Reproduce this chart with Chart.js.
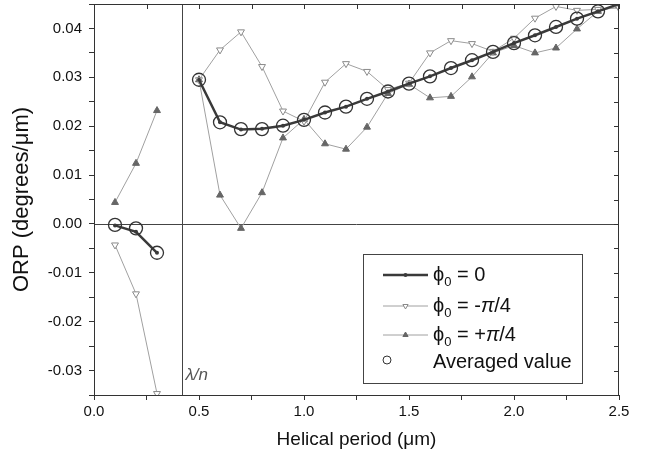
<!DOCTYPE html>
<html>
<head>
<meta charset="utf-8">
<script src="https://cdn.jsdelivr.net/npm/chart.js@4.4.1/dist/chart.umd.min.js"></script>
<style>
    html, body { margin: 0; padding: 0; background: #fff; }
</style>
</head>
<body>
<canvas id="myChart" width="645" height="462"></canvas>
<script>
// Helical period (um); 0.4 is left empty so the two branches stay apart
const periods = [0.1, 0.2, 0.3, 0.4, 0.5, 0.6, 0.7, 0.8, 0.9, 1.0, 1.1, 1.2, 1.3,
                 1.4, 1.5, 1.6, 1.7, 1.8, 1.9, 2.0, 2.1, 2.2, 2.3, 2.4, 2.5];

const phiZero = [-0.0003, -0.0016, -0.0059, null, 0.0295, 0.0208, 0.0193, 0.0195, 0.0201,
                 0.0213, 0.0228, 0.0240, 0.0256, 0.0271, 0.0287, 0.0302, 0.0319, 0.0335,
                 0.0352, 0.0370, 0.0386, 0.0403, 0.0420, 0.0435, 0.0450];

const phiMinus = [-0.0043, -0.0143, -0.0347, null, 0.0295, 0.0356, 0.0393, 0.0322, 0.0231,
                  0.0210, 0.0290, 0.0328, 0.0312, 0.0275, 0.0288, 0.0350, 0.0375, 0.0369,
                  0.0353, 0.0380, 0.0421, 0.0445, 0.0437, 0.0439, 0.0442];

const phiPlus = [0.0044, 0.0124, 0.0232, null, 0.0295, 0.0059, -0.0009, 0.0064, 0.0176,
                 0.0214, 0.0164, 0.0153, 0.0198, 0.0267, 0.0286, 0.0258, 0.0261, 0.0301,
                 0.0350, 0.0365, 0.0350, 0.0360, 0.0399, 0.0435, 0.0446];

const averaged = [-0.0002, -0.0009, -0.0059, null, 0.0295, 0.0208, 0.0194, 0.0194, 0.0201,
                  0.0213, 0.0228, 0.0240, 0.0256, 0.0271, 0.0287, 0.0302, 0.0319, 0.0335,
                  0.0352, 0.0370, 0.0386, 0.0403, 0.0420, 0.0435, null];

const lambdaN = 0.417;   // position of the lambda/n marker line

const FONT = "'Liberation Sans', Arial, Helvetica, sans-serif";

function toPoints(values) {
    return periods.map((p, i) => ({ x: p, y: values[i] }));
}

// draws a legend label: "0" after phi as subscript, pi in italics
function drawLabel(ctx, text, x, y, size) {
    const parts = text.split(/(₀|π)/);
    parts.forEach(part => {
        if (!part) return;
        let dy = 0;
        if (part === '₀') {
            ctx.font = Math.round(size * 0.65) + 'px ' + FONT;
            part = '0';
            dy = size * 0.38;
        } else if (part === 'π') {
            ctx.font = 'italic ' + size + 'px ' + FONT;
        } else {
            ctx.font = size + 'px ' + FONT;
        }
        ctx.fillText(part, x, y + dy);
        x += ctx.measureText(part).width;
    });
}

// frame, zero line, lambda/n line, inner ticks and the legend box
const decorPlugin = {
    id: 'decor',
    beforeDatasetsDraw(chart) {
        const { ctx, chartArea: a, scales: { x, y } } = chart;
        const y0 = Math.round(y.getPixelForValue(0)) + 0.5;
        const xl = Math.round(x.getPixelForValue(lambdaN)) + 0.5;
        ctx.save();
        ctx.strokeStyle = '#444';
        ctx.lineWidth = 1;
        ctx.beginPath();
        ctx.moveTo(a.left, y0); ctx.lineTo(a.right, y0);
        ctx.moveTo(xl, a.top); ctx.lineTo(xl, a.bottom);
        ctx.stroke();
        ctx.fillStyle = '#555';
        ctx.font = 'italic 17px ' + FONT;
        ctx.textBaseline = 'middle';
        ctx.fillText('λ/n', xl + 3, a.bottom - 20);
        ctx.restore();
    },
    afterDraw(chart) {
        const { ctx, chartArea: a, scales: { x, y } } = chart;
        ctx.save();
        ctx.strokeStyle = '#333';
        ctx.lineWidth = 1;
        ctx.strokeRect(a.left + 0.5, a.top + 0.5, a.right - a.left - 1, a.bottom - a.top);

        // mirrored ticks on top and right, pointing inward
        ctx.beginPath();
        x.ticks.forEach(t => {
            const px = Math.round(x.getPixelForValue(t.value)) + 0.5;
            ctx.moveTo(px, a.top); ctx.lineTo(px, a.top + 5);
        });
        y.ticks.forEach(t => {
            const py = Math.round(y.getPixelForValue(t.value)) + 0.5;
            ctx.moveTo(a.right, py); ctx.lineTo(a.right - 5, py);
        });
        ctx.stroke();

        // legend
        const bx = a.left + 269, by = a.bottom - 141, bw = 219, bh = 129;
        ctx.fillStyle = '#fff';
        ctx.fillRect(bx, by, bw, bh);
        ctx.strokeStyle = '#444';
        ctx.strokeRect(bx + 0.5, by + 0.5, bw, bh);

        const rowY = [21, 52, 81, 106];
        chart.data.datasets.forEach((ds, r) => {
            const cy = by + rowY[r];
            const x1 = bx + 20, x2 = bx + 65;
            if (ds.showLine !== false) {
                ctx.strokeStyle = ds.borderColor;
                ctx.lineWidth = ds.borderWidth;
                ctx.beginPath();
                ctx.moveTo(x1, cy); ctx.lineTo(x2, cy);
                ctx.stroke();
                ctx.fillStyle = ds.pointBackgroundColor;
                ctx.strokeStyle = ds.pointBorderColor;
                ctx.lineWidth = 1;
                Chart.helpers.drawPoint(ctx, {
                    pointStyle: ds.pointStyle || 'circle',
                    radius: ds.legendRadius,
                    rotation: ds.pointRotation || 0,
                    borderWidth: ds.pointBorderWidth || 0
                }, (x1 + x2) / 2, cy);
            } else {
                ctx.fillStyle = 'rgba(0,0,0,0)';
                ctx.strokeStyle = ds.pointBorderColor;
                ctx.lineWidth = 1;
                Chart.helpers.drawPoint(ctx, {
                    pointStyle: 'circle', radius: ds.legendRadius, rotation: 0, borderWidth: 1
                }, x1 + 4, cy);
            }
            ctx.fillStyle = '#111';
            ctx.textBaseline = 'middle';
            drawLabel(ctx, ds.label, bx + 70, ds.showLine === false ? cy + 2 : cy, 20);
        });
        ctx.restore();
    }
};

const ctx = document.getElementById('myChart').getContext('2d');

new Chart(ctx, {
    type: 'line',
    data: {
        datasets: [{
            label: 'ϕ₀ = 0',
            data: toPoints(phiZero),
            borderColor: '#3a3a3a',
            borderWidth: 2.5,
            pointStyle: 'circle',
            pointRadius: 2,
            pointBackgroundColor: '#3a3a3a',
            pointBorderColor: '#3a3a3a',
            pointBorderWidth: 0,
            legendRadius: 2,
            order: 1
        }, {
            label: 'ϕ₀ = -π/4',
            data: toPoints(phiMinus),
            borderColor: '#a0a0a0',
            borderWidth: 1,
            pointStyle: 'triangle',
            pointRotation: 180,
            pointRadius: 4,
            pointBackgroundColor: '#ffffff',
            pointBorderColor: '#8a8a8a',
            pointBorderWidth: 1,
            legendRadius: 3,
            order: 2
        }, {
            label: 'ϕ₀ = +π/4',
            data: toPoints(phiPlus),
            borderColor: '#a0a0a0',
            borderWidth: 1,
            pointStyle: 'triangle',
            pointRadius: 4,
            pointBackgroundColor: '#666666',
            pointBorderColor: '#666666',
            pointBorderWidth: 1,
            legendRadius: 3,
            order: 3
        }, {
            label: 'Averaged value',
            data: toPoints(averaged),
            showLine: false,
            pointStyle: 'circle',
            pointRadius: 6.5,
            pointBackgroundColor: 'rgba(0,0,0,0)',
            pointBorderColor: '#333333',
            pointBorderWidth: 1.3,
            legendRadius: 4,
            order: 0
        }]
    },
    options: {
        responsive: false,
        animation: false,
        events: [],
        spanGaps: false,
        layout: { autoPadding: false, padding: { left: 0, right: 26, top: 4, bottom: 0 } },
        plugins: {
            legend: { display: false },
            tooltip: { enabled: false }
        },
        scales: {
            x: {
                type: 'linear',
                min: 0,
                max: 2.5,
                afterFit: s => { s.height = 67; s.paddingLeft = 0; s.paddingRight = 0; },
                border: { display: true, color: '#333' },
                grid: { drawOnChartArea: false, drawTicks: true, tickLength: 5, color: '#333' },
                ticks: {
                    stepSize: 0.25,
                    autoSkip: false,
                    maxRotation: 0,
                    padding: 3,
                    color: '#111',
                    font: { family: FONT, size: 15 },
                    callback: v => Math.abs(v * 2 - Math.round(v * 2)) < 1e-6 ? v.toFixed(1) : ''
                },
                title: {
                    display: true,
                    text: 'Helical period (μm)',
                    color: '#111',
                    font: { family: FONT, size: 19 },
                    padding: { top: 0, bottom: 11 }
                }
            },
            y: {
                type: 'linear',
                min: -0.035,
                max: 0.045,
                afterFit: s => { s.width = 94; s.paddingTop = 0; s.paddingBottom = 0; },
                border: { display: true, color: '#333' },
                grid: { drawOnChartArea: false, drawTicks: true, tickLength: 5, color: '#333' },
                ticks: {
                    stepSize: 0.005,
                    autoSkip: false,
                    padding: 7,
                    color: '#111',
                    font: { family: FONT, size: 15 },
                    callback: v => {
                        const h = v * 100;
                        if (Math.abs(h - Math.round(h)) > 1e-6) return '';
                        return Math.round(h) === 0 ? '0.00' : (Math.round(h) / 100).toFixed(2);
                    }
                },
                title: {
                    display: true,
                    text: 'ORP (degrees/μm)',
                    color: '#111',
                    font: { family: FONT, size: 22 },
                    padding: { top: 9, bottom: 0 }
                }
            }
        }
    },
    plugins: [decorPlugin]
});
</script>
</body>
</html>
